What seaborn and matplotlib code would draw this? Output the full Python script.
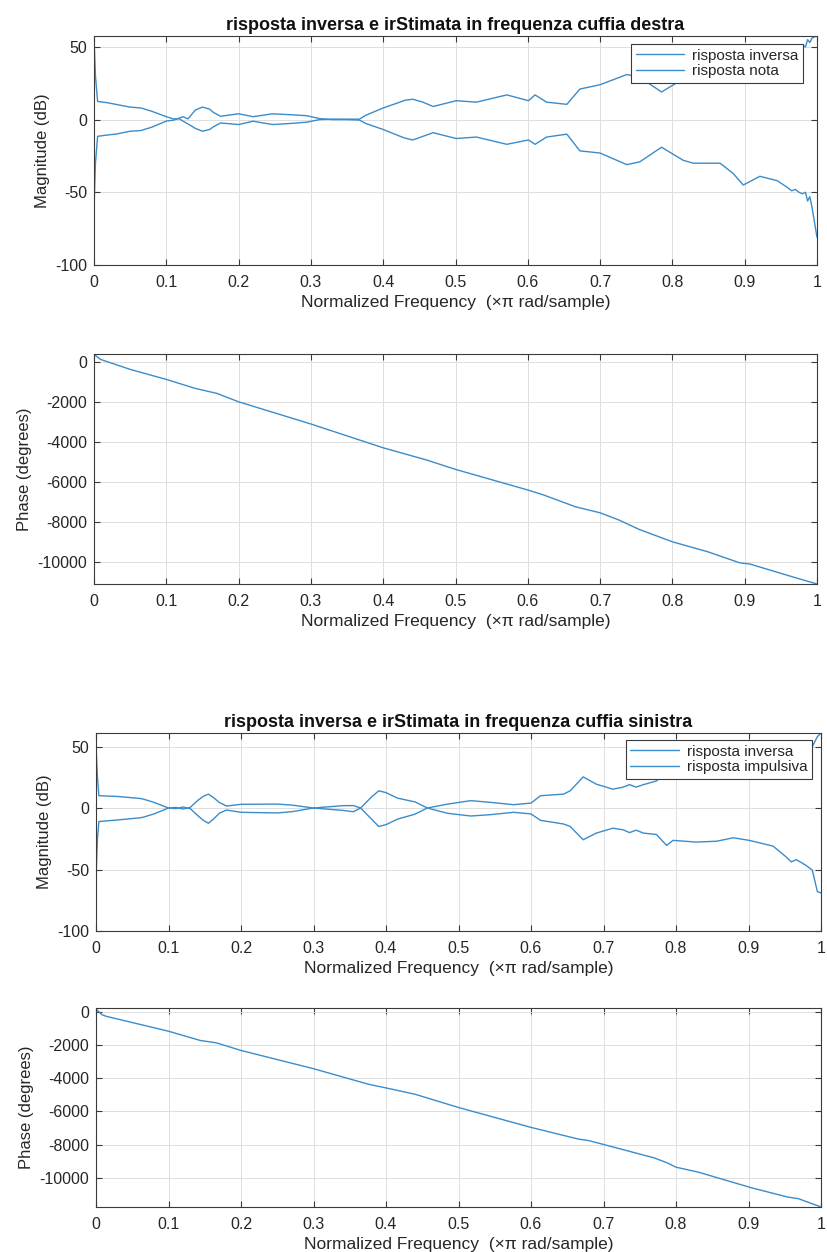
import numpy as np
import pandas as pd
import matplotlib
matplotlib.use("Agg")
import matplotlib.pyplot as plt
import seaborn as sns

# ---------------- data ----------------
# Right headphone: magnitude
x_mag_r = [0, 0.002, 0.005, 0.02, 0.03, 0.05, 0.065, 0.08, 0.1, 0.11, 0.118, 0.123, 0.13,
           0.14, 0.15, 0.16, 0.165, 0.175, 0.2, 0.22, 0.247, 0.27, 0.294, 0.312, 0.33, 0.35,
           0.367, 0.376, 0.4, 0.423, 0.43, 0.441, 0.455, 0.469, 0.501, 0.529, 0.571, 0.601,
           0.61, 0.626, 0.654, 0.672, 0.7, 0.737, 0.755, 0.785, 0.815, 0.829, 0.866, 0.884,
           0.898, 0.921, 0.945, 0.96, 0.965, 0.97, 0.975, 0.98, 0.984, 0.987, 0.99, 0.993,
           0.997, 1.0]
inversa_r = [57, 30, 12.5, 11.5, 10.5, 8.6, 8, 5.7, 2, 0.4, 0.6, -1, -3,
             -6, -8, -6.8, -5, -2.3, -3.4, -1.1, -3.4, -2.7, -1.8, 0, 0.3, 0.3,
             0.3, 3, 8, 12, 13.3, 14, 12, 9, 13, 12, 17, 13,
             17, 12, 10.5, 21, 24, 31, 29, 19, 28, 30, 30, 37,
             45, 39, 42, 47, 49, 48, 50, 51, 50, 55, 53, 56,
             57, 58]
nota_r = [-62, -30, -11.5, -10.5, -10, -8, -7.5, -5.2, -1, -0.4, 1, 2, 0.5,
          6.5, 8.6, 7.2, 5, 2.3, 4, 2, 4, 3.4, 2.7, 0.7, 0, 0,
          -0.3, -2.7, -6.8, -11.4, -12.7, -14, -11.5, -9, -13, -12, -17, -14,
          -17, -12, -10, -21.5, -23, -31, -29, -19, -28, -30, -30, -37,
          -45, -39, -42, -47, -49, -48, -50, -51, -50, -56, -53, -60,
          -72, -81]

# Right headphone: phase
x_ph_r = [0, 0.009, 0.05, 0.1, 0.14, 0.17, 0.2, 0.3, 0.4, 0.46, 0.5, 0.6, 0.622, 0.666,
          0.7, 0.726, 0.754, 0.8, 0.849, 0.893, 0.907, 0.966, 1.0]
phase_r = [400, 150, -350, -850, -1300, -1550, -1970, -3080, -4270, -4880, -5350, -6380,
           -6630, -7220, -7520, -7880, -8350, -8970, -9470, -10020, -10080, -10720, -11080]

# Left headphone: magnitude
x_mag_l = [0, 0.002, 0.004, 0.03, 0.06, 0.065, 0.08, 0.1, 0.11, 0.12, 0.13, 0.14, 0.148,
           0.155, 0.162, 0.17, 0.18, 0.2, 0.25, 0.27, 0.3, 0.34, 0.355, 0.365, 0.38, 0.39,
           0.4, 0.416, 0.44, 0.457, 0.485, 0.517, 0.544, 0.576, 0.6, 0.613, 0.645, 0.654,
           0.672, 0.69, 0.713, 0.727, 0.736, 0.745, 0.755, 0.773, 0.787, 0.796, 0.828,
           0.856, 0.879, 0.901, 0.934, 0.952, 0.959, 0.966, 0.979, 0.988, 0.995, 1.0]
inversa_l = [51, 25, 10, 9.4, 7.8, 7.3, 4.6, 0, -0.5, 0.8, -0.5, -6, -10,
             -12.4, -9, -4.3, -1.6, -3.5, -4, -3, 0, 1.9, 2, 0, -9, -15,
             -13.5, -9, -5, 0, 3.2, 6, 4.6, 2.7, 4, 10, 11.3, 14,
             25.3, 19.4, 15.3, 17, 19, 17, 19, 22, 30, 26, 28,
             27, 24, 26, 31, 40, 44, 42, 46.5, 50, 58, 61]
impulsiva_l = [-57, -25, -11, -9.7, -8, -7.5, -4.8, 0, 0.5, -0.8, 0.5, 6, 9.5,
               11.3, 8.5, 4.6, 1.6, 3, 3.2, 2.4, 0, -1.9, -3, 0, 9, 14,
               12.5, 8, 5, 0, -4.3, -6.5, -5.4, -3.5, -4.8, -10, -13, -15,
               -25.8, -20.4, -16.4, -17.7, -20, -18, -20.4, -21.5, -30.4, -26.3, -27.7,
               -27, -24.2, -26.3, -31, -39.8, -43.8, -42, -46.5, -50.5, -68, -69]

# Left headphone: phase
x_ph_l = [0, 0.008, 0.014, 0.1, 0.144, 0.166, 0.2, 0.3, 0.376, 0.4, 0.44, 0.5, 0.6, 0.665,
          0.68, 0.701, 0.77, 0.788, 0.8, 0.831, 0.904, 0.954, 0.969, 1.0]
phase_l = [180, -160, -260, -1160, -1720, -1860, -2320, -3420, -4360, -4580, -4960, -5760,
           -6960, -7660, -7760, -8000, -8800, -9100, -9360, -9660, -10600, -11160, -11260, -11760]

x_ticks = [0, 0.1, 0.2, 0.3, 0.4, 0.5, 0.6, 0.7, 0.8, 0.9, 1]
x_tick_labels = ["0", "0.1", "0.2", "0.3", "0.4", "0.5", "0.6", "0.7", "0.8", "0.9", "1"]
mag_ticks = [-100, -50, 0, 50]
phase_ticks = [-10000, -8000, -6000, -4000, -2000, 0]

title_r = "risposta inversa e irStimata in frequenza cuffia destra"
title_l = "risposta inversa e irStimata in frequenza cuffia sinistra"
legend_r = ["risposta inversa", "risposta nota"]
legend_l = ["risposta inversa", "risposta impulsiva"]
xlabel = "Normalized Frequency  (×π rad/sample)"

# ---------------- style ----------------
sns.set_theme(style="whitegrid")
plt.rcParams["font.family"] = ["Liberation Sans", "DejaVu Sans"]
plt.rcParams["axes.edgecolor"] = "#3a3a3a"
plt.rcParams["axes.linewidth"] = 0.8
plt.rcParams["grid.color"] = "#dedede"
plt.rcParams["grid.linewidth"] = 0.7
plt.rcParams["xtick.direction"] = "in"
plt.rcParams["ytick.direction"] = "in"

LINE = "#3a8ccb"
TXT = "#262626"

fig = plt.figure(figsize=(8.27, 12.52), dpi=100)
W, H = 827.0, 1252.0


def make_ax(left, right, top, bottom):
    return fig.add_axes([left / W, 1 - bottom / H, (right - left) / W, (bottom - top) / H])


ax1 = make_ax(94, 817, 36, 265)
ax2 = make_ax(94, 817, 354, 584)
ax3 = make_ax(96, 821, 733, 931)
ax4 = make_ax(96, 821, 1008, 1207)


def style_ax(ax, yticks, ylim, ylabel):
    ax.set_xlim(0, 1)
    ax.set_ylim(*ylim)
    ax.set_xticks(x_ticks)
    ax.set_xticklabels(x_tick_labels)
    ax.set_yticks(yticks)
    ax.set_yticklabels([str(t) for t in yticks])
    ax.tick_params(axis="both", which="both", direction="in", length=4, width=0.8,
                   color="#3a3a3a", labelsize=11.5, labelcolor=TXT,
                   top=True, right=True, bottom=True, left=True)
    ax.tick_params(axis="x", pad=7)
    ax.tick_params(axis="y", pad=5)
    ax.set_xlabel(xlabel, fontsize=12.5, color=TXT, labelpad=4)
    ax.set_ylabel(ylabel, fontsize=12, color=TXT, labelpad=4)
    ax.grid(True, color="#dedede", linewidth=0.7)
    for s in ax.spines.values():
        s.set_visible(True)
        s.set_color("#3a3a3a")
        s.set_linewidth(0.8)


def mag_plot(ax, x, y1, y2, labels, ylim, title, gap_right, gap_top, ax_w, ax_h):
    df = pd.DataFrame({"x": list(x) * 2, "y": list(y1) + list(y2),
                       "serie": [labels[0]] * len(x) + [labels[1]] * len(x)})
    sns.lineplot(data=df, x="x", y="y", hue="serie", palette=[LINE, LINE],
                 linewidth=1.0, ax=ax, sort=False, estimator=None)
    style_ax(ax, mag_ticks, ylim, "Magnitude (dB)")
    ax.set_title(title, fontsize=13, fontweight="bold", color="#111111", pad=4)
    leg = ax.legend(loc="upper right",
                    bbox_to_anchor=(1 - gap_right / ax_w, 1 - gap_top / ax_h),
                    fancybox=False, framealpha=1, edgecolor="#3a3a3a",
                    fontsize=11, handlelength=3.2, borderaxespad=0, labelspacing=0.1,
                    borderpad=0.3, handletextpad=0.5, title=None)
    leg.get_frame().set_linewidth(0.8)


def phase_plot(ax, x, y, ylim):
    df = pd.DataFrame({"x": x, "y": y})
    sns.lineplot(data=df, x="x", y="y", color=LINE, linewidth=1.0, ax=ax,
                 sort=False, estimator=None)
    style_ax(ax, phase_ticks, ylim, "Phase (degrees)")


mag_plot(ax1, x_mag_r, inversa_r, nota_r, legend_r, (-100, 57.5), title_r, 14, 8, 723, 229)
phase_plot(ax2, x_ph_r, phase_r, (-11080, 420))
mag_plot(ax3, x_mag_l, inversa_l, impulsiva_l, legend_l, (-100, 61), title_l, 9, 7, 725, 198)
phase_plot(ax4, x_ph_l, phase_l, (-11760, 240))

fig.savefig("out.png", dpi=100, facecolor="white")
